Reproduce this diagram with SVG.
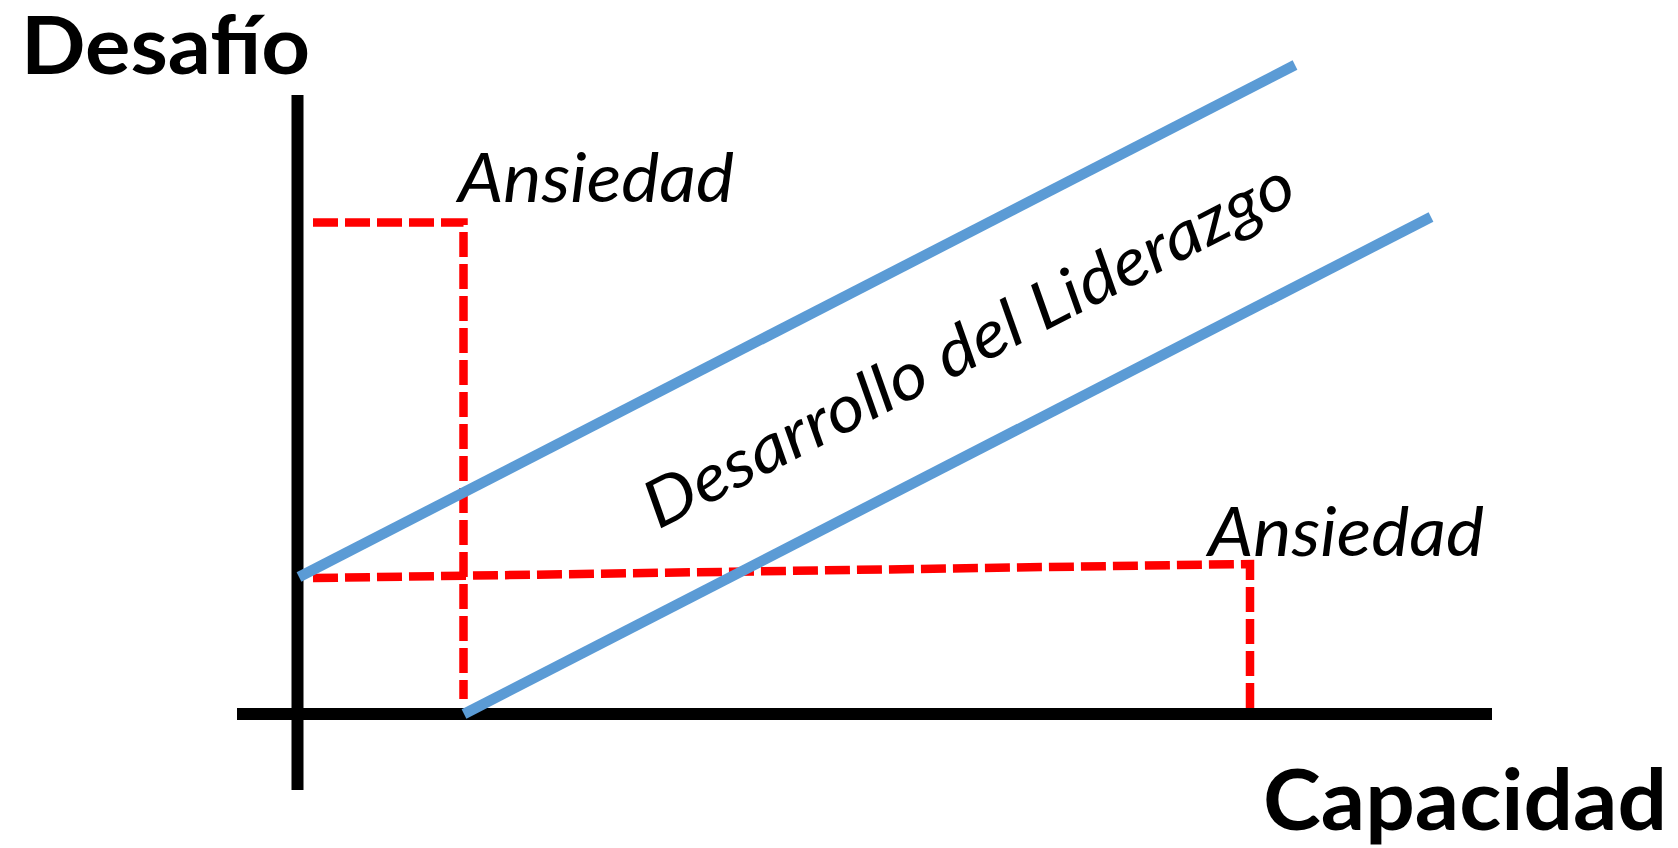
<svg xmlns="http://www.w3.org/2000/svg" width="1678" height="848" viewBox="0 0 1678 848">
<style>
.axis{stroke:#000;stroke-width:12;fill:none}
.band{stroke:#5B9BD5;stroke-width:10.5;fill:none}
.guide{stroke:#FF0000;stroke-width:8.5;fill:none;stroke-dasharray:25 7}
.title{font-family:Lato,"Open Sans","Liberation Sans",sans-serif;font-weight:bold;fill:#000}
.lbl{font-family:Lato,"Open Sans","Liberation Sans",sans-serif;font-style:italic;fill:#000}
</style>
<rect width="1678" height="848" fill="#fff"/>
<g id="connectors">
<line class="axis" x1="297.5" y1="95" x2="297.5" y2="790"/>
<line class="axis" x1="237" y1="714" x2="1492" y2="714"/>
<path class="guide" d="M313,222.5 H463.5 V699"/>
<path class="guide" d="M313,578 L1250,564 V715"/>
<line class="band" x1="299" y1="577" x2="1295" y2="65"/>
<line class="band" x1="464" y1="714" x2="1431" y2="217"/>
</g>
<g id="desafio"><text class="title" x="21" y="74" font-size="80" textLength="289" lengthAdjust="spacingAndGlyphs">Desafío</text></g>
<g id="capacidad"><text class="title" x="1263" y="830" font-size="84" textLength="404" lengthAdjust="spacingAndGlyphs">Capacidad</text></g>
<g id="ansiedad-top"><text class="lbl" x="458" y="201.5" font-size="68" textLength="276" lengthAdjust="spacingAndGlyphs">Ansiedad</text></g>
<g id="ansiedad-bottom"><text class="lbl" x="1208" y="556" font-size="68" textLength="276" lengthAdjust="spacingAndGlyphs">Ansiedad</text></g>
<g id="desarrollo"><text class="lbl" transform="translate(658,530) rotate(-27.2)" x="0" y="0" font-size="66" textLength="722" lengthAdjust="spacingAndGlyphs">Desarrollo del Liderazgo</text></g>
</svg>
